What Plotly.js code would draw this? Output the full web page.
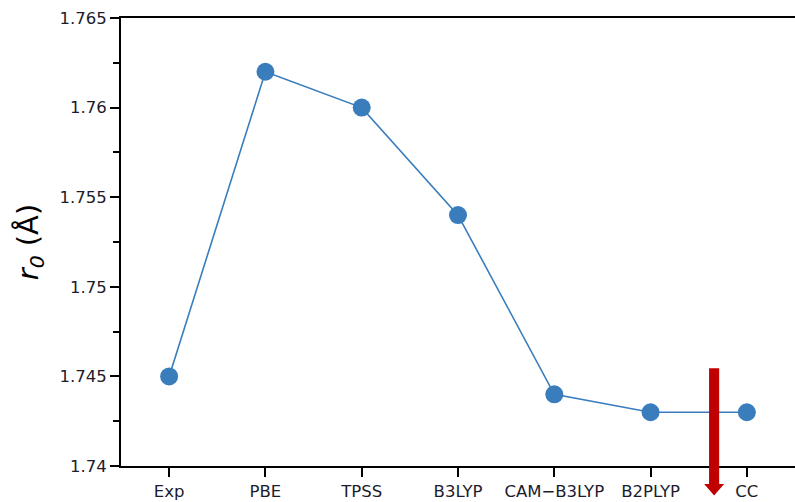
<!DOCTYPE html>
<html>
<head>
<meta charset="utf-8">
<script src="https://cdn.plot.ly/plotly-3.0.1.min.js"></script>
<style>html,body{margin:0;padding:0;background:#fff;}#chart{width:795px;height:502px;}</style>
</head>
<body>
<div id="chart"></div>
<script>
// Equilibrium bond length r0 by method
const methods = ['Exp', 'PBE', 'TPSS', 'B3LYP', 'CAM\u2212B3LYP', 'B2PLYP', 'CC'];
const r0 = [1.745, 1.762, 1.760, 1.754, 1.744, 1.743, 1.743];

const blue = '#3a7dbd';
const red = '#c00000';

const trace = {
  x: methods,
  y: r0,
  type: 'scatter',
  mode: 'lines+markers',
  line: {color: blue, width: 1.6},
  marker: {color: blue, size: 18},
  cliponaxis: false,
  hoverinfo: 'x+y'
};

const tickFont = {family: 'DejaVu Sans', size: 16.5, color: '#1c1c2c'};

const layout = {
  width: 795,
  height: 502,
  margin: {l: 121, r: 0, t: 18, b: 36},
  paper_bgcolor: '#fff',
  plot_bgcolor: '#fff',
  showlegend: false,
  xaxis: {
    type: 'category',
    range: [-0.5, 6.5],
    showgrid: false,
    zeroline: false,
    showline: true,
    mirror: true,
    linecolor: '#000',
    linewidth: 2,
    ticks: 'outside',
    ticklen: 9,
    tickwidth: 2,
    tickcolor: '#000',
    tickfont: tickFont
  },
  yaxis: {
    range: [1.74, 1.765],
    dtick: 0.005,
    tick0: 1.74,
    tickformat: '~g',
    showgrid: false,
    zeroline: false,
    showline: true,
    linecolor: '#000',
    linewidth: 2,
    ticks: 'outside',
    ticklen: 9,
    tickwidth: 2,
    tickcolor: '#000',
    tickfont: tickFont,
    minor: {dtick: 0.0025, tick0: 1.74, ticks: 'outside', ticklen: 6, tickwidth: 2, tickcolor: '#000', showgrid: false},
    title: {
      text: '<i>r<sub>0</sub></i> (Å)',
      font: {family: 'DejaVu Sans', size: 29, color: '#000'},
      standoff: 12
    }
  },
  shapes: [
    // arrow shaft
    {type: 'rect', xref: 'paper', yref: 'paper', x0: 0.8725, x1: 0.8875, y0: -0.040, y1: 0.218,
     fillcolor: red, line: {width: 0}, layer: 'above'},
    // arrow head
    {type: 'path', xref: 'paper', yref: 'paper',
     path: 'M 0.8652 -0.040 L 0.8948 -0.040 L 0.8800 -0.066 Z',
     fillcolor: red, line: {width: 0}, layer: 'above'}
  ]
};

Plotly.newPlot('chart', [trace], layout, {displayModeBar: false, staticPlot: true});
</script>
</body>
</html>
